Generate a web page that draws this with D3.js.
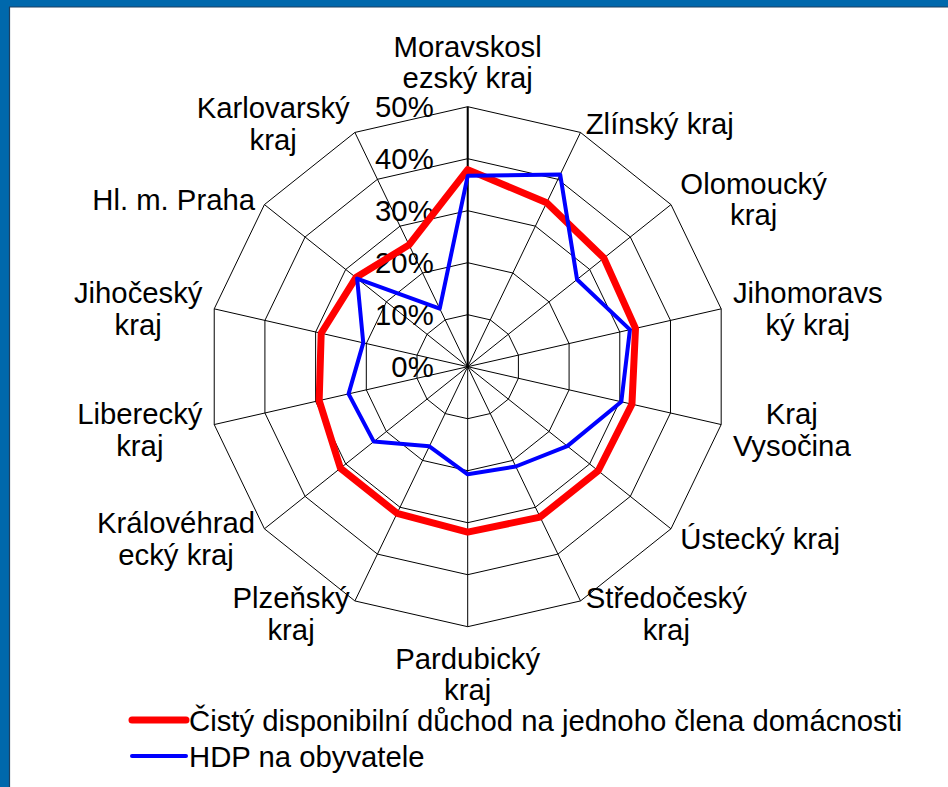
<!DOCTYPE html>
<html>
<head>
<meta charset="utf-8" />
<title>Radar - kraje</title>
<style>
body { margin: 0; background: #fff; }
svg { display: block; font-family: "Liberation Sans", Arial, sans-serif; }
</style>
</head>
<body>
<script src="https://cdn.jsdelivr.net/npm/d3@7"></script>
<script>
// categories clockwise from the top, already split into lines like the original
var kraje = [
  ["Moravskosl", "ezský kraj"],
  ["Zlínský kraj"],
  ["Olomoucký", "kraj"],
  ["Jihomoravs", "ký kraj"],
  ["Kraj", "Vysočina"],
  ["Ústecký kraj"],
  ["Středočeský", "kraj"],
  ["Pardubický", "kraj"],
  ["Plzeňský", "kraj"],
  ["Královéhrad", "ecký kraj"],
  ["Liberecký", "kraj"],
  ["Jihočeský", "kraj"],
  ["Hl. m. Praha"],
  ["Karlovarský", "kraj"]
];

var duchod = [37.9, 35.0, 33.5, 33.1, 32.4, 32.1, 32.1, 31.8, 31.3, 31.3, 29.3, 28.9, 27.5, 26.0];
var hdp    = [36.7, 41.0, 26.9, 32.0, 30.3, 24.5, 21.3, 20.7, 17.0, 23.1, 23.5, 20.6, 27.2, 12.4];

var ticks = [0, 10, 20, 30, 40, 50];
var tickLabels = ["0%", "10%", "20%", "30%", "40%", "50%"];

var seriesNames = ["Čistý disponibilní důchod na jednoho člena domácnosti", "HDP na obyvatele"];

var width = 948, height = 787;
var cx = 467.7, cy = 366.7, R = 260;
var fs = "29.3px";

var svg = d3.select("body").append("svg")
  .attr("width", width)
  .attr("height", height);

svg.append("rect").attr("width", width).attr("height", height).attr("fill", "#fff");

// frame (only top and left edges are visible in the crop)
svg.append("rect").attr("x", 0).attr("y", 0).attr("width", width).attr("height", 7).attr("fill", "#0068ac");
svg.append("rect").attr("x", 0).attr("y", 0).attr("width", 9).attr("height", height).attr("fill", "#0068ac");
svg.append("line").attr("x1", 9).attr("x2", width).attr("y1", 7).attr("y2", 7).attr("stroke", "#1d3f60").attr("stroke-width", 1.2);
svg.append("line").attr("x1", 9.5).attr("x2", 9.5).attr("y1", 7).attr("y2", height).attr("stroke", "#1d3f60").attr("stroke-width", 1.2);

var n = kraje.length;
var angle = d3.scaleLinear().domain([0, n]).range([0, 2 * Math.PI]);
var r = d3.scaleLinear().domain([0, 50]).range([0, R]);

function px(i, v) { return cx + r(v) * Math.sin(angle(i)); }
function py(i, v) { return cy - r(v) * Math.cos(angle(i)); }

var g = svg.append("g");

// rings
var idx = d3.range(n);
g.selectAll(".ring")
  .data(ticks.slice(1))
  .enter().append("polygon")
  .attr("class", "ring")
  .attr("points", function(t) { return idx.map(function(i) { return px(i, t) + "," + py(i, t); }).join(" "); })
  .attr("fill", "none")
  .attr("stroke", "#000")
  .attr("stroke-width", 1);

// spokes
g.selectAll(".spoke")
  .data(idx)
  .enter().append("line")
  .attr("class", "spoke")
  .attr("x1", cx).attr("y1", cy)
  .attr("x2", function(i) { return px(i, 50); })
  .attr("y2", function(i) { return py(i, 50); })
  .attr("stroke", "#000")
  .attr("stroke-width", 1);

// value axis
g.append("line")
  .attr("x1", cx).attr("y1", cy)
  .attr("x2", cx).attr("y2", cy - R)
  .attr("stroke", "#000")
  .attr("stroke-width", 2);

// tick labels
g.selectAll(".tick")
  .data(ticks)
  .enter().append("text")
  .attr("class", "tick")
  .attr("x", cx - 34)
  .attr("y", function(t) { return cy - r(t); })
  .attr("dy", "0.36em")
  .attr("text-anchor", "end")
  .attr("font-size", fs)
  .attr("fill", "#000")
  .text(function(t, i) { return tickLabels[i]; });

// series
var line = d3.line()
  .x(function(d) { return px(d.i, d.v); })
  .y(function(d) { return py(d.i, d.v); })
  .curve(d3.curveLinearClosed);

function toPts(arr) { return arr.map(function(v, i) { return {i: i, v: v}; }); }

g.append("path")
  .attr("d", line(toPts(duchod)))
  .attr("fill", "none")
  .attr("stroke", "#ff0000")
  .attr("stroke-width", 7)
  .attr("stroke-linejoin", "round");

g.append("path")
  .attr("d", line(toPts(hdp)))
  .attr("fill", "none")
  .attr("stroke", "#0000ff")
  .attr("stroke-width", 4)
  .attr("stroke-linejoin", "round");

// category labels
var lineH = 31.7, labR = 272;
kraje.forEach(function(lines, i) {
  var a = angle(i), s = Math.sin(a), c = Math.cos(a);
  var ax = cx + labR * s, ay = cy + 2 - labR * c;
  var t = g.append("text")
    .attr("font-size", fs)
    .attr("fill", "#000")
    .attr("text-anchor", "middle");
  lines.forEach(function(l, k) {
    t.append("tspan").attr("x", 0).attr("y", k * lineH).text(l);
  });
  var w = d3.max(t.selectAll("tspan").nodes(), function(node) { return node.getComputedTextLength(); });
  var m = lines.length - 1;
  var mx, y0;
  if (Math.abs(s) < 0.01) {
    mx = ax;
    y0 = c > 0 ? ay - 8.4 - m * lineH : ay + 28;
  } else {
    mx = s > 0 ? ax + w / 2 : ax - w / 2;
    y0 = ay - m * lineH / 2 + 10.5;
  }
  t.attr("transform", "translate(" + mx + "," + y0 + ")");
});

// legend
var legend = svg.append("g");
var legItems = [
  {name: seriesNames[0], color: "#ff0000", w: 7, y: 720},
  {name: seriesNames[1], color: "#0000ff", w: 4, y: 756}
];
legItems.forEach(function(d) {
  legend.append("line")
    .attr("x1", 132).attr("x2", 186)
    .attr("y1", d.y).attr("y2", d.y)
    .attr("stroke", d.color)
    .attr("stroke-width", d.w)
    .attr("stroke-linecap", "round");
  legend.append("text")
    .attr("x", 189).attr("y", d.y)
    .attr("dy", "0.36em")
    .attr("font-size", fs)
    .attr("fill", "#000")
    .text(d.name);
});
</script>
</body>
</html>
